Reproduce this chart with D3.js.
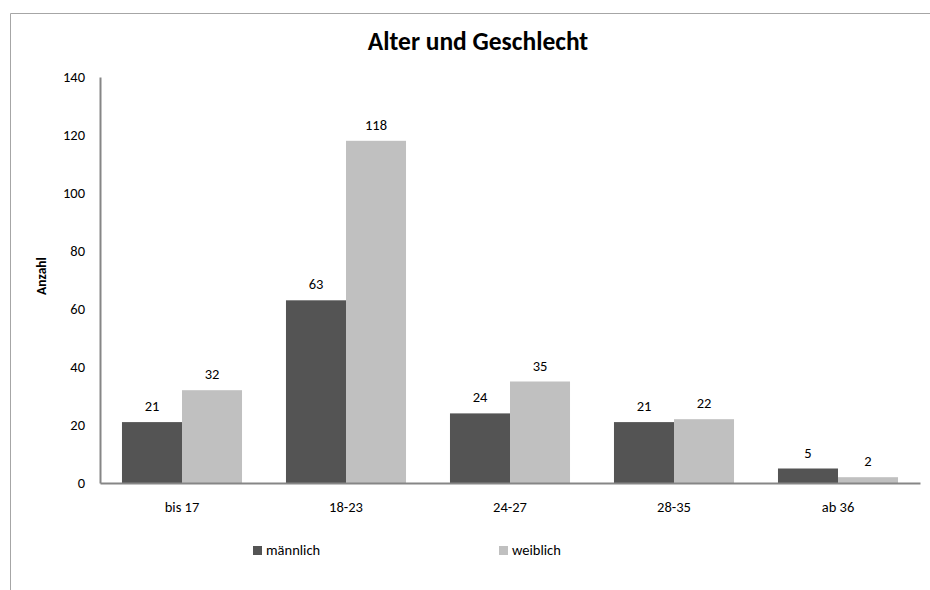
<!DOCTYPE html>
<html>
<head>
<meta charset="utf-8">
<script src="https://cdn.jsdelivr.net/npm/d3@7"></script>
<style>
  body { margin: 0; background: #fff; }
  text { font-family: Carlito, Calibri, Lato, "Open Sans", sans-serif; fill: #000; }
</style>
</head>
<body>
<div id="chart"></div>
<script>
var categories = ["bis 17", "18-23", "24-27", "28-35", "ab 36"];
var seriesNames = ["männlich", "weiblich"];
var maennlich = [21, 63, 24, 21, 5];
var weiblich = [32, 118, 35, 22, 2];
var yTicks = [0, 20, 40, 60, 80, 100, 120, 140];

var colors = ["#545454", "#c0c0c0"];
var fontStack = "Carlito, Calibri, Lato, 'Open Sans', sans-serif";

var margin = {top: 77, right: 10, bottom: 107, left: 100},
  width = 930 - margin.left - margin.right,
  height = 590 - margin.top - margin.bottom;

var svg = d3.select("#chart").append("svg")
  .attr("width", 930)
  .attr("height", 590);

// chart area frame (top + left only, rest is cut off)
svg.append("path")
  .attr("d", "M10.5,590 L10.5,13.5 L930,13.5")
  .attr("fill", "none")
  .attr("stroke", "#a6a6a6")
  .attr("stroke-width", 1);

svg.append("text")
  .attr("x", 478)
  .attr("y", 50)
  .attr("text-anchor", "middle")
  .style("font-size", "25.5px")
  .style("font-weight", "bold")
  .text("Alter und Geschlecht");

var g = svg.append("g")
  .attr("transform", "translate(" + margin.left + "," + margin.top + ")");

var x0 = d3.scaleBand()
  .domain(categories)
  .range([0, width])
  .paddingInner(0.268)
  .paddingOuter(0.134);

var x1 = d3.scaleBand()
  .domain(seriesNames)
  .range([0, x0.bandwidth()]);

var y = d3.scaleLinear()
  .domain([0, 140])
  .range([height, 0]);

var rows = categories.map(function(c, i) {
  return {cat: c, values: [maennlich[i], weiblich[i]]};
});

var groups = g.selectAll(".grp")
  .data(rows)
  .enter().append("g")
  .attr("class", "grp")
  .attr("transform", function(d) { return "translate(" + x0(d.cat) + ",0)"; });

groups.selectAll("rect")
  .data(function(d) { return d.values.map(function(v, j) { return {name: seriesNames[j], v: v, j: j}; }); })
  .enter().append("rect")
  .attr("x", function(d) { return x1(d.name); })
  .attr("y", function(d) { return y(d.v); })
  .attr("width", x1.bandwidth())
  .attr("height", function(d) { return height - y(d.v); })
  .attr("fill", function(d) { return colors[d.j]; });

// data labels
groups.selectAll(".lbl")
  .data(function(d) { return d.values.map(function(v, j) { return {name: seriesNames[j], v: v}; }); })
  .enter().append("text")
  .attr("class", "lbl")
  .attr("x", function(d) { return x1(d.name) + x1.bandwidth() / 2; })
  .attr("y", function(d) { return y(d.v) - 11; })
  .attr("text-anchor", "middle")
  .style("font-size", "14.5px")
  .text(function(d) { return d.v; });

// Y axis
var yAxis = d3.axisLeft(y).tickValues(yTicks).tickSize(0).tickPadding(15);
var ya = g.append("g").call(yAxis);
ya.select(".domain").attr("stroke", "#868686").attr("stroke-width", 2);
ya.selectAll("text")
  .style("font-size", "14.5px")
  .style("font-family", fontStack)
  .attr("fill", "#000");

// X axis
var xAxis = d3.axisBottom(x0).tickSize(0).tickPadding(19);
var xa = g.append("g")
  .attr("transform", "translate(0," + height + ")")
  .call(xAxis);
xa.select(".domain").attr("stroke", "#868686").attr("stroke-width", 2);
xa.selectAll("text")
  .style("font-size", "14.5px")
  .style("font-family", fontStack)
  .attr("fill", "#000");

// Y title
svg.append("text")
  .attr("transform", "translate(46,276) rotate(-90)")
  .attr("text-anchor", "middle")
  .style("font-size", "13.5px")
  .style("font-weight", "bold")
  .text("Anzahl");

// Legend
var legendX = [253, 499];
var leg = svg.selectAll(".leg")
  .data(seriesNames)
  .enter().append("g")
  .attr("class", "leg")
  .attr("transform", function(d, i) { return "translate(" + legendX[i] + ",546)"; });
leg.append("rect")
  .attr("width", 9)
  .attr("height", 9)
  .attr("fill", function(d, i) { return colors[i]; });
leg.append("text")
  .attr("x", 13)
  .attr("y", 9)
  .style("font-size", "14.5px")
  .text(function(d) { return d; });
</script>
</body>
</html>
